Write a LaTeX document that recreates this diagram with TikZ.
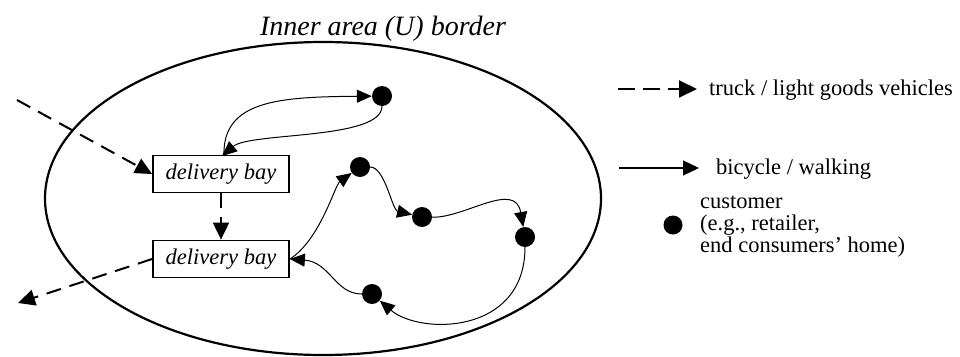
\documentclass[tikz,border=0pt]{standalone}
\usepackage{fontspec}
\setmainfont{Liberation Serif}
\usetikzlibrary{arrows.meta}
\tikzset{
  bay/.style={draw, line width=1.8pt, minimum width=136pt, minimum height=37pt, inner sep=0pt, font=\fontsize{22.5}{26}\selectfont\itshape},
  dot/.style={circle, fill=black, minimum size=20pt, inner sep=0pt},
  truckarrow/.style={line width=2pt, dash pattern=on 15pt off 9pt, -{Triangle[length=17pt,width=16pt]}},
  walkarrow/.style={line width=1pt, -{Triangle[length=15pt,width=13pt]}},
  legtext/.style={inner sep=0pt, anchor=base west, font=\fontsize{22.5}{22.2}\selectfont, align=left},
}
\begin{document}
\begin{tikzpicture}[x=1pt, y=-1pt]
\useasboundingbox (0,0) rectangle (960,356);
% inner area border
\draw[line width=2.2pt] (323,198.5) ellipse [x radius=278, y radius=156.5];
\node[inner sep=0pt, anchor=base, font=\fontsize{28}{32}\selectfont\itshape] (title) at (383,35) {Inner area (U) border};
% delivery bays
\node[bay] (b1) at (221,174) {delivery bay};
\node[bay] (b2) at (221,259) {delivery bay};
% customers
\node[dot] (d1) at (382,96) {};
\node[dot] (d2) at (360,167) {};
\node[dot] (d3) at (422,217) {};
\node[dot] (d4) at (525,237) {};
\node[dot] (d5) at (372,294) {};
% truck routes
\coordinate (tin) at (17,100);
\coordinate (tout) at (18,303);
\draw[truckarrow] (tin) -- (b1.west);
\draw[truckarrow] (b1.south) -- (b2.north);
\draw[truckarrow] (b2.west) -- (tout);
% bicycle / walking tours
\coordinate (b1a) at (224,156);
\coordinate (b1b) at (222,156);
\draw[walkarrow] (b1a) .. controls (222,100) and (280,97) .. (d1);
\draw[walkarrow] (d1) .. controls (382,140) and (250,132) .. (b1b);
\draw[walkarrow] (b2.east) .. controls (320,240) and (335,185) .. (d2);
\draw[walkarrow] (d2) .. controls (385,167) and (392,210) .. (d3);
\draw[walkarrow] (d3) .. controls (465,218) and (515,180) .. (d4);
\draw[walkarrow] (d4) .. controls (525,335) and (420,335) .. (d5);
\draw[walkarrow] (d5) .. controls (335,294) and (330,262) .. (b2.east);
% legend
\coordinate (l1a) at (618,89);
\coordinate (l1b) at (697,89);
\draw[line width=2pt, dash pattern=on 17pt off 8pt, -{Triangle[length=18pt,width=17pt]}] (l1a) -- (l1b);
\node[legtext] (lt1) at (709,95) {truck / light goods vehicles};
\coordinate (l2a) at (619,168);
\coordinate (l2b) at (699,168);
\draw[line width=1.2pt, -{Triangle[length=16pt,width=15pt]}] (l2a) -- (l2b);
\node[legtext] (lt2) at (716,174) {bicycle / walking};
\node[dot, minimum size=19pt] (ld) at (673,225) {};
\node[legtext] (lt3) at (700,252.7) {customer\\(e.g., retailer,\\end consumers’ home)};
\end{tikzpicture}
\end{document}
